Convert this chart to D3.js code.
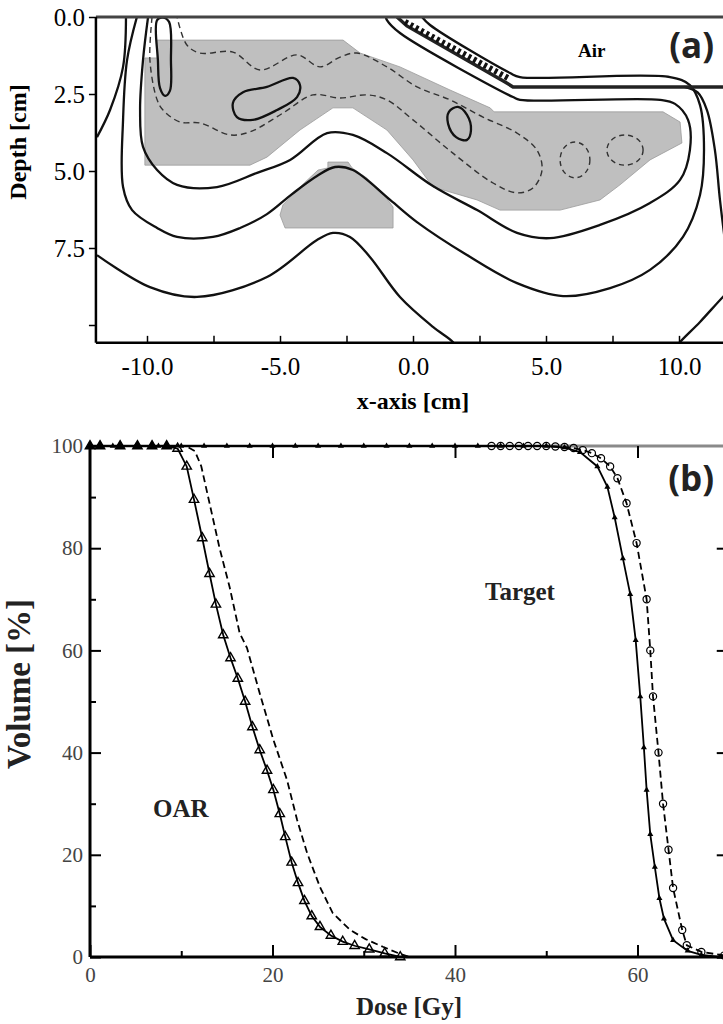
<!DOCTYPE html>
<html>
<head>
<meta charset="utf-8">
<script src="https://cdnjs.cloudflare.com/ajax/libs/d3/7.8.5/d3.min.js"></script>
<style>
body { margin: 0; background: #fff; }
svg { display: block; }
</style>
</head>
<body>
<div class="container"></div>
<script>
// ---- panel (a): isodose map, [x cm, depth cm]
var xTicksA = [-10, -7.5, -5, -2.5, 0, 2.5, 5, 7.5, 10];
var xLabelsA = [-10, -5, 0, 5, 10];
var yTicksA = [0, 2.5, 5, 7.5, 10];
var yLabelsA = [0, 2.5, 5, 7.5];

var targetArea = [[-9.62,0.75],[-2.63,0.75],[-1.99,1.17],[-0.49,1.62],[1.39,2.37],[2.9,2.95],[3.05,3.08],[9.40,3.08],[10.04,3.41],[10.11,4.09],[8.91,4.64],[7.78,5.45],[7.03,5.94],[5.53,6.27],[3.27,6.27],[2.41,5.94],[0.75,5.52],[0,4.64],[-0.98,3.67],[-2.26,2.95],[-3.01,2.95],[-4.25,3.67],[-5.49,4.55],[-6.13,4.81],[-10.08,4.81],[-10.08,1.33],[-9.62,1.33]];
var oarArea = [[-3.20,4.71],[-2.44,4.71],[-2.29,4.90],[-1.73,5.23],[-1.17,5.68],[-0.75,6.17],[-0.75,6.85],[-4.81,6.85],[-5.00,6.43],[-4.89,6.10],[-4.25,5.52],[-3.57,4.97],[-3.20,4.90]];

var isoInner = [[-9.96,0],[-10.15,1.40],[-10.26,3.02],[-10.15,4.22],[-9.62,4.97],[-8.87,5.45],[-7.37,5.52],[-5.86,5.06],[-4.62,4.64],[-3.23,3.77],[-2.26,3.83],[-0.98,4.42],[0.75,5.49],[2.41,6.27],[3.91,7.01],[5.15,7.18],[7.03,6.75],[8.91,6.04],[10.04,5.29],[10.41,4.32],[10.34,3.34],[9.85,2.82],[9.29,2.69],[4.02,2.69],[3.76,2.60],[-0.49,0.52],[-0.98,0.10],[-1.02,0]];
var isoMiddle = [[-10.38,0],[-10.75,1.40],[-10.90,3.34],[-10.90,5.52],[-10.56,6.27],[-9.62,6.85],[-8.87,7.14],[-7.52,7.14],[-6.50,6.85],[-5.49,6.40],[-4.55,5.75],[-3.61,5.16],[-2.93,4.87],[-2.26,4.97],[-0.86,5.94],[0.15,6.66],[2.03,7.73],[3.91,8.64],[5.64,9.06],[7.41,8.80],[8.91,8.21],[10.15,7.14],[10.79,5.78],[10.94,4.32],[10.79,2.86],[10.41,2.21],[9.66,1.95],[4.02,1.95],[3.65,1.82],[0.64,0.26],[0.34,0]];
var isoOuterLeft = [[-10.79,0],[-10.90,1.62],[-11.39,3.02],[-11.88,3.90]];
var isoOuterBottom = [[-11.88,7.73],[-9.89,8.77],[-8.12,9.09],[-5.49,8.44],[-3.61,7.24],[-3.01,7.01],[-2.37,7.14],[-1.62,7.79],[-0.49,9.09],[0.75,10.06],[1.50,10.55],[1.7,10.8]];
var isoOuterRight = [[9.8,10.8],[10.04,10.55],[10.79,9.90],[11.65,9.09],[12.29,8.54]];
var isoRight = [[10.2,2.27],[10.70,2.45],[11.05,3.02],[11.35,4.32],[11.54,5.94],[11.77,7.56]];
var skinLine = [[-0.60,0],[-0.23,0.29],[3.46,2.11],[3.76,2.27],[12.4,2.27]];
var skinHatch = [[-0.30,0.16],[3.57,1.98]];

var hotSpots = [
  [[-6.77,2.79],[-6.39,2.44],[-5.49,2.27],[-4.51,1.98],[-4.25,2.21],[-4.36,2.60],[-5.11,3.02],[-6.02,3.34],[-6.62,3.25]],
  [[1.35,3.08],[1.69,2.92],[2.03,3.18],[2.18,3.67],[2.03,3.99],[1.62,3.90],[1.32,3.47]],
  [[-9.40,0.02],[-9.62,0.10],[-9.59,1.40],[-9.51,2.31],[-9.32,2.56],[-9.14,2.40],[-9.10,1.40],[-9.17,0.16]]
];
var dashedLoop = [[-9.81,0],[-9.89,1.40],[-9.62,2.69],[-9.40,3.02],[-8.76,3.41],[-8.01,3.44],[-6.88,3.83],[-6.13,3.73],[-4.89,3.12],[-3.76,2.53],[-2.74,2.63],[-1.73,2.53],[-0.98,2.69],[0,3.34],[1.50,4.42],[3.01,5.39],[3.91,5.71],[4.51,5.55],[4.85,4.97],[4.66,4.32],[3.91,3.77],[2.63,3.25],[1.39,2.69],[0.15,2.27],[-0.98,1.62],[-2.11,1.17],[-2.74,1.30],[-3.50,1.62],[-4.36,1.23],[-5.75,1.72],[-6.77,1.14],[-8.01,1.17],[-8.50,0.91],[-8.87,0]];
var dashedRings = [[6.09,4.64,0.56,0.58],[7.97,4.32,0.68,0.49]];

// ---- panel (b): dose volume histogram, [dose Gy, volume %]
var doseMajor = [0, 20, 40, 60];
var doseMinor = [10, 30, 50];
var volMajor = [0, 20, 40, 60, 80, 100];
var volMinor = [10, 30, 50, 70, 90];

var oarSolid = [[0,100],[1.1,100],[3.3,100],[5.2,100],[6.8,100],[8.4,100],[9.6,99.5],[10.6,96],[11.4,89.5],[12.3,82],[13.1,75],[13.8,69],[14.6,63],[15.4,58.5],[16.2,54.5],[17,50],[17.8,45],[18.6,40.5],[19.4,36.5],[20.1,32.7],[20.8,28],[21.4,23.5],[22.1,18.5],[22.8,14.5],[23.5,11],[24.3,8],[25.2,5.9],[26.4,4.2],[27.7,3],[29,2.2],[30.6,1.5],[32.3,0.7],[34,0]];
var oarDashed = [[0,100],[10.5,100],[11.5,99],[12.2,96],[13.2,88],[14.2,80],[15.3,72.4],[16.4,63.4],[17.2,60.5],[18.6,51.6],[20.1,42.5],[21.6,34.6],[22.7,26.8],[23.8,20.3],[25.2,13.7],[26.6,8.6],[28.5,5.3],[30.2,3.5],[32.1,2],[34,0.6],[35,0]];
var targetSolid = [[0,100],[2.5,100],[5,100],[7.5,100],[10,100],[12.5,100],[15,100],[17.5,100],[20,100],[22.5,100],[25,100],[27.5,100],[30,100],[32.5,100],[35,100],[37.5,100],[40,100],[42.5,100],[45,100],[47.5,100],[50,100],[52,99.7],[53.7,98.8],[55.6,96],[56.7,92],[57.5,86],[58.4,78],[59.2,71],[59.8,62],[60.3,51],[60.7,41],[61,32.7],[61.4,24],[61.9,17.6],[62.4,11.5],[62.9,7.5],[63.9,3.3],[65.5,1.2],[67,0.4],[69,0]];
var targetDashed = [[0,100],[44,100],[45,100],[46,100],[47,100],[48,100],[49,100],[50,100],[51,99.9],[52,99.8],[53,99.6],[54,99.2],[55,98.6],[56,97.6],[57,96],[57.8,93.7],[58.8,88.8],[59.9,81],[61,70],[61.4,60],[61.7,51],[62.3,40],[62.8,30],[63.4,21],[63.9,13.5],[64.9,5.3],[65.4,2.3],[67,1],[69.5,0.3]];

var serif = "'Liberation Serif', 'Times New Roman', serif";
var sans = "'Open Sans', 'Liberation Sans', sans-serif";

var svg = d3.select(".container").append("svg")
    .attr("width", 723)
    .attr("height", 1024);

// ================= panel (a)
var xA = d3.scaleLinear().domain([-10, 10]).range([147, 679]);
var yA = d3.scaleLinear().domain([0, 7.5]).range([17, 248]);
var xMinA = -11.92, xMaxA = 12.4, depthMax = 10.58;

svg.append("clipPath").attr("id", "clipA").append("rect")
    .attr("x", xA(xMinA))
    .attr("y", yA(0))
    .attr("width", xA(xMaxA) - xA(xMinA))
    .attr("height", yA(depthMax) - yA(0));

var gA = svg.append("g");
var plotA = gA.append("g").attr("clip-path", "url(#clipA)");

var lineA = d3.line().x(d => xA(d[0])).y(d => yA(d[1]));
var smoothA = d3.line().x(d => xA(d[0])).y(d => yA(d[1])).curve(d3.curveCatmullRom.alpha(0.5));
var loopA = d3.line().x(d => xA(d[0])).y(d => yA(d[1])).curve(d3.curveCatmullRomClosed.alpha(0.5));

plotA.selectAll(".area")
    .data([targetArea, oarArea])
    .enter()
    .append("path")
    .attr("d", d => lineA(d) + "Z")
    .attr("fill", "#bfbfbf")
    .attr("stroke", "#9a9a9a")
    .attr("stroke-width", 0.8);

plotA.append("path")
    .attr("d", smoothA(dashedLoop))
    .attr("fill", "none")
    .attr("stroke", "#333")
    .attr("stroke-width", 1.4)
    .attr("stroke-dasharray", "6,4");

plotA.selectAll(".ring")
    .data(dashedRings)
    .enter()
    .append("ellipse")
    .attr("cx", d => xA(d[0]))
    .attr("cy", d => yA(d[1]))
    .attr("rx", d => xA(d[0] + d[2]) - xA(d[0]))
    .attr("ry", d => yA(d[1] + d[3]) - yA(d[1]))
    .attr("fill", "none")
    .attr("stroke", "#333")
    .attr("stroke-width", 1.4)
    .attr("stroke-dasharray", "5,4");

plotA.selectAll(".iso")
    .data([isoInner, isoMiddle, isoOuterLeft, isoOuterBottom, isoOuterRight, isoRight])
    .enter()
    .append("path")
    .attr("d", d => smoothA(d))
    .attr("fill", "none")
    .attr("stroke", "#111")
    .attr("stroke-width", 2.3);

plotA.selectAll(".hot")
    .data(hotSpots)
    .enter()
    .append("path")
    .attr("d", d => loopA(d))
    .attr("fill", "none")
    .attr("stroke", "#111")
    .attr("stroke-width", 2.3);

plotA.append("path")
    .attr("d", lineA(skinLine))
    .attr("fill", "none")
    .attr("stroke", "#222")
    .attr("stroke-width", 3.5);

plotA.append("path")
    .attr("d", lineA(skinHatch))
    .attr("fill", "none")
    .attr("stroke", "#111")
    .attr("stroke-width", 6)
    .attr("stroke-dasharray", "3,3");

// frame
gA.append("line")
    .attr("x1", xA(xMinA)).attr("x2", 723)
    .attr("y1", yA(0)).attr("y2", yA(0))
    .attr("stroke", "#444").attr("stroke-width", 3);
gA.append("line")
    .attr("x1", xA(xMinA)).attr("x2", xA(xMinA))
    .attr("y1", yA(0)).attr("y2", yA(depthMax))
    .attr("stroke", "#000").attr("stroke-width", 2.5);
gA.append("line")
    .attr("x1", xA(xMinA)).attr("x2", 723)
    .attr("y1", yA(depthMax)).attr("y2", yA(depthMax))
    .attr("stroke", "#000").attr("stroke-width", 2.5);

var fmtA = d => (d < 0 ? "-" : "") + Math.abs(d).toFixed(1);

var xAxisA = gA.append("g")
    .attr("transform", `translate(0, ${yA(depthMax)})`)
    .call(d3.axisBottom(xA).tickValues(xTicksA).tickSize(-7).tickPadding(14)
        .tickFormat(d => xLabelsA.includes(d) ? fmtA(d) : ""));
xAxisA.select(".domain").remove();
xAxisA.attr("font-family", serif).attr("font-size", 25);
xAxisA.selectAll("line").attr("stroke-width", 1.5);

var yAxisA = gA.append("g")
    .attr("transform", `translate(${xA(xMinA)}, 0)`)
    .call(d3.axisLeft(yA).tickValues(yTicksA).tickSize(7).tickPadding(4)
        .tickFormat(d => yLabelsA.includes(d) ? fmtA(d) : ""));
yAxisA.select(".domain").remove();
yAxisA.attr("font-family", serif).attr("font-size", 25);
yAxisA.selectAll("line").attr("stroke-width", 1.5);

gA.append("text")
    .attr("transform", "translate(26, 142) rotate(-90)")
    .attr("text-anchor", "middle")
    .attr("font-family", serif)
    .attr("font-weight", "bold")
    .attr("font-size", 24)
    .text("Depth [cm]");

gA.append("text")
    .attr("x", 413).attr("y", 409)
    .attr("text-anchor", "middle")
    .attr("font-family", serif)
    .attr("font-weight", "bold")
    .attr("font-size", 24)
    .text("x-axis [cm]");

gA.append("text")
    .attr("x", 578).attr("y", 57)
    .attr("font-family", serif)
    .attr("font-weight", "bold")
    .attr("font-size", 19)
    .text("Air");

gA.append("text")
    .attr("x", 714).attr("y", 58)
    .attr("text-anchor", "end")
    .attr("font-family", sans)
    .attr("font-weight", "bold")
    .attr("font-size", 35)
    .attr("fill", "#222")
    .text("(a)");

// ================= panel (b)
var xB = d3.scaleLinear().domain([0, 70]).range([90, 728.75]);
var yB = d3.scaleLinear().domain([0, 100]).range([957, 446]);
var gB = svg.append("g");

var lineB = d3.line().x(d => xB(d[0])).y(d => yB(d[1]));

// frame
gB.append("line")
    .attr("x1", xB(0)).attr("x2", xB(70))
    .attr("y1", yB(100)).attr("y2", yB(100))
    .attr("stroke", "#8a8a8a").attr("stroke-width", 3);

var series = [
    { data: oarDashed, dash: "7,4" },
    { data: oarSolid, dash: null },
    { data: targetDashed, dash: "7,4" },
    { data: targetSolid, dash: null }
];

gB.selectAll(".dvh")
    .data(series)
    .enter()
    .append("path")
    .attr("d", d => lineB(d.data))
    .attr("fill", "none")
    .attr("stroke", "#000")
    .attr("stroke-width", 1.8)
    .attr("stroke-dasharray", d => d.dash);

gB.selectAll(".oarMark")
    .data(oarSolid)
    .enter()
    .append("path")
    .attr("transform", d => `translate(${xB(d[0])}, ${yB(d[1])})`)
    .attr("d", d3.symbol(d3.symbolTriangle).size(38))
    .attr("fill", d => d[1] === 100 ? "#000" : "none")
    .attr("stroke", "#000")
    .attr("stroke-width", 1.4);

gB.selectAll(".tgtMark")
    .data(targetSolid)
    .enter()
    .append("path")
    .attr("transform", d => `translate(${xB(d[0])}, ${yB(d[1])})`)
    .attr("d", d3.symbol(d3.symbolTriangle).size(16))
    .attr("fill", "#000");

gB.selectAll(".tgtCircle")
    .data(targetDashed.filter(d => d[0] > 0))
    .enter()
    .append("circle")
    .attr("cx", d => xB(d[0]))
    .attr("cy", d => yB(d[1]))
    .attr("r", 3.6)
    .attr("fill", "none")
    .attr("stroke", "#000")
    .attr("stroke-width", 1.2);

gB.append("line")
    .attr("x1", xB(0)).attr("x2", xB(0))
    .attr("y1", yB(100)).attr("y2", yB(0))
    .attr("stroke", "#000").attr("stroke-width", 3);
gB.append("line")
    .attr("x1", xB(0)).attr("x2", xB(70))
    .attr("y1", yB(0)).attr("y2", yB(0))
    .attr("stroke", "#000").attr("stroke-width", 3);

function styleAxis(g, size) {
    g.select(".domain").remove();
    g.attr("font-family", serif).attr("font-size", size);
    g.selectAll("text").attr("fill", "#444");
    g.selectAll("line").attr("stroke-width", 2);
}

var leftB = gB.append("g")
    .attr("transform", `translate(${xB(0)}, 0)`)
    .call(d3.axisLeft(yB).tickValues(volMajor).tickSize(-11).tickPadding(7));
styleAxis(leftB, 21);
var leftMinor = gB.append("g")
    .attr("transform", `translate(${xB(0)}, 0)`)
    .call(d3.axisLeft(yB).tickValues(volMinor).tickSize(-6).tickFormat(""));
styleAxis(leftMinor, 21);

var bottomB = gB.append("g")
    .attr("transform", `translate(0, ${yB(0)})`)
    .call(d3.axisBottom(xB).tickValues(doseMajor).tickSize(-12).tickPadding(10));
styleAxis(bottomB, 21);
var bottomMinor = gB.append("g")
    .attr("transform", `translate(0, ${yB(0)})`)
    .call(d3.axisBottom(xB).tickValues(doseMinor).tickSize(-6).tickFormat(""));
styleAxis(bottomMinor, 21);

var topB = gB.append("g")
    .attr("transform", `translate(0, ${yB(100)})`)
    .call(d3.axisTop(xB).tickValues([20, 40, 60]).tickSize(-12).tickFormat(""));
styleAxis(topB, 21);

var rightB = gB.append("g")
    .attr("transform", `translate(${xB(70)}, 0)`)
    .call(d3.axisRight(yB).tickValues([20, 40, 60, 80]).tickSize(-12).tickFormat(""));
styleAxis(rightB, 21);

gB.append("text")
    .attr("transform", "translate(30, 684) rotate(-90)")
    .attr("text-anchor", "middle")
    .attr("font-family", serif)
    .attr("font-weight", "bold")
    .attr("font-size", 33)
    .attr("fill", "#222")
    .text("Volume [%]");

gB.append("text")
    .attr("x", 409).attr("y", 1015)
    .attr("text-anchor", "middle")
    .attr("font-family", serif)
    .attr("font-weight", "bold")
    .attr("font-size", 25)
    .attr("fill", "#222")
    .text("Dose [Gy]");

gB.append("text")
    .attr("x", 153).attr("y", 817)
    .attr("font-family", serif)
    .attr("font-weight", "bold")
    .attr("font-size", 25)
    .attr("fill", "#222")
    .text("OAR");

gB.append("text")
    .attr("x", 485).attr("y", 600)
    .attr("font-family", serif)
    .attr("font-weight", "bold")
    .attr("font-size", 25)
    .attr("fill", "#222")
    .text("Target");

gB.append("text")
    .attr("x", 714).attr("y", 491)
    .attr("text-anchor", "end")
    .attr("font-family", sans)
    .attr("font-weight", "bold")
    .attr("font-size", 35)
    .attr("fill", "#222")
    .text("(b)");
</script>
</body>
</html>
